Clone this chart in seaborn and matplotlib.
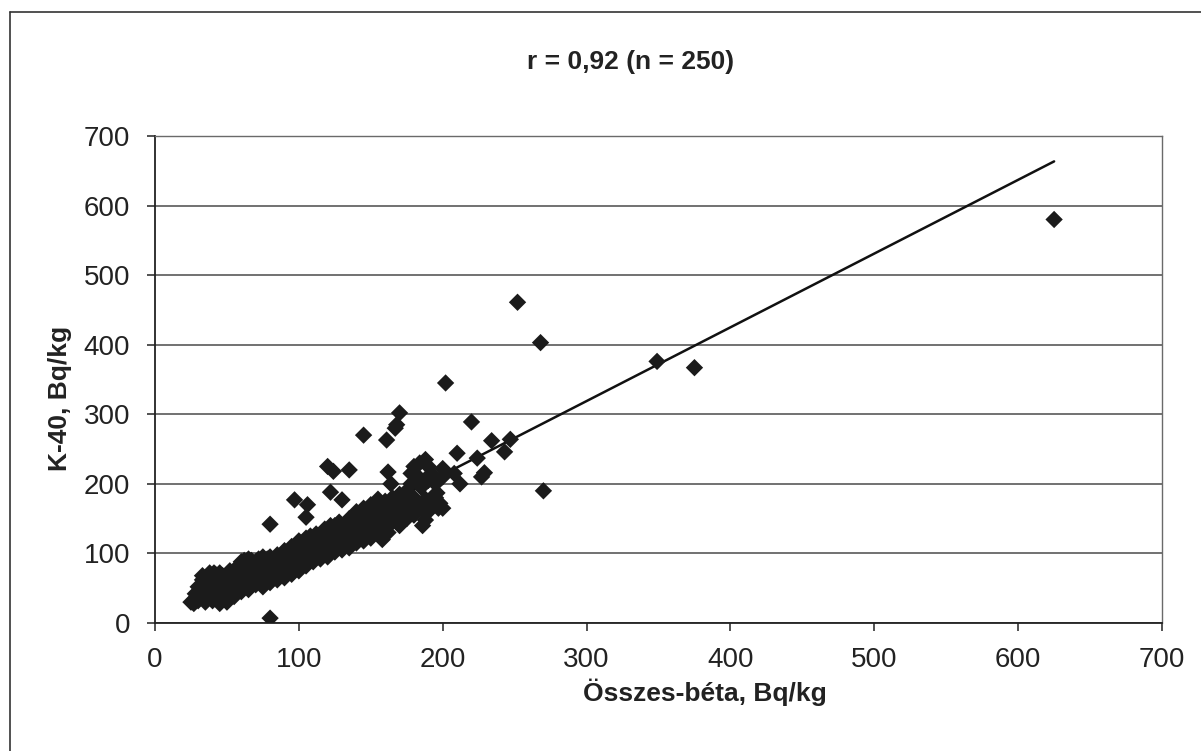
import numpy as np
import pandas as pd
import matplotlib
matplotlib.use("Agg")
import matplotlib.pyplot as plt
import seaborn as sns
from matplotlib.lines import Line2D

# ---- data ----
beta = [
    # sparse / outlying points
    625, 375, 349, 268, 252, 270, 247, 243, 234, 229, 227, 220, 224, 210, 212, 208,
    202, 196, 198, 200, 195, 197, 190, 188, 186, 188, 184, 180, 178, 170, 168, 167,
    161, 162, 164, 145, 135, 120, 124, 122, 130, 106, 105, 97, 80, 80,
    # dense band
    25, 27, 28, 30, 30, 32, 33, 35, 35, 36, 38, 38, 40, 40, 41, 42, 43, 44, 45, 45,
    46, 47, 48, 48, 50, 50, 52, 52, 54, 55, 56, 57, 58, 60, 60, 62, 62, 64, 65, 66,
    67, 68, 70, 70, 72, 72, 74, 75, 76, 78, 78, 80, 80, 82, 83, 85, 86, 88, 88, 90,
    90, 92, 93, 95, 96, 98, 100, 100, 102, 103, 105, 106, 108, 110, 110, 112, 114, 115,
    116, 118, 120, 120, 122, 124, 125, 126, 128, 130, 130, 132, 134, 135, 136, 138,
    140, 140, 142, 144, 145, 146, 148, 150, 150, 152, 153, 155, 156, 158, 158, 160,
    160, 162, 162, 164, 165, 166, 168, 170, 170, 172, 174, 175, 176, 178, 180, 182,
    183, 185, 188, 190, 192, 194, 195, 200, 200, 193, 175, 155, 143, 133, 118, 108,
    98, 87, 77, 66, 55, 48, 37, 34, 63, 73, 84, 95,
    # band edges
    33, 38, 42, 36, 30, 28, 50, 55, 58, 62, 65, 70, 72, 75, 80, 85, 90, 95, 100, 105,
    108, 112, 118, 122, 128, 60, 65, 70, 75, 80, 85, 90, 95, 100, 105, 110, 115, 120,
    125, 130, 135, 140, 145, 150, 155, 160, 165, 170, 175, 180, 185, 190, 195, 150,
    155, 145, 140, 135, 50, 55, 48, 40, 35, 52, 45,
]
k40 = [
    580, 367, 376, 403, 461, 190, 264, 246, 262, 216, 210, 289, 237, 244, 200, 215,
    345, 187, 172, 222, 180, 165, 225, 235, 140, 148, 230, 225, 215, 302, 285, 280,
    263, 217, 200, 270, 220, 225, 218, 188, 177, 170, 152, 177, 142, 7,
    30, 28, 35, 32, 45, 40, 62, 38, 55, 48, 42, 65, 50, 60, 72, 45, 55, 38, 28, 62,
    50, 68, 44, 58, 52, 40, 60, 70, 48, 56, 64, 75, 52, 60, 88, 68, 55, 80, 62, 72,
    90, 58, 70, 80, 65, 86, 75, 60, 82, 70, 92, 78, 62, 88, 75, 84, 70, 95, 80, 86,
    72, 100, 82, 90, 78, 95, 105, 85, 115, 96, 100, 110, 92, 118, 104, 98, 112, 125,
    106, 100, 115, 130, 108, 120, 140, 112, 128, 118, 135, 125, 145, 130, 115, 138,
    150, 125, 135, 155, 142, 128, 148, 160, 138, 152, 170, 145, 165, 158, 120, 150,
    175, 130, 162, 148, 180, 160, 170, 158, 185, 150, 175, 190, 165, 200, 180, 170,
    210, 195, 178, 205, 215, 180, 200, 210, 165, 181, 168, 150, 138, 128, 110, 100,
    90, 80, 76, 66, 58, 50, 46, 52, 74, 84, 92, 98,
    68, 72, 70, 58, 52, 42, 65, 70, 82, 90, 92, 88, 92, 95, 95, 98, 104, 110, 118, 122,
    125, 128, 135, 140, 145, 45, 48, 55, 52, 58, 62, 65, 70, 75, 82, 88, 92, 95,
    102, 105, 108, 115, 118, 122, 128, 140, 145, 140, 150, 155, 165, 160, 170, 170,
    178, 165, 160, 150, 30, 38, 35, 32, 30, 75, 72,
]
trend_x = [25, 625]
trend_slope = 1.06
trend_intercept = 1.0

title = "r = 0,92 (n = 250)"
xlabel = "Összes-béta, Bq/kg"
ylabel = "K-40, Bq/kg"
ticks = [0, 100, 200, 300, 400, 500, 600, 700]

df = pd.DataFrame({"beta": beta, "k40": k40})

sns.set_theme(style="white")
plt.rcParams["font.family"] = ["Liberation Sans", "DejaVu Sans"]

W, H = 1201, 751
fig = plt.figure(figsize=(W / 100, H / 100), dpi=100)
ax = fig.add_axes([155 / W, 1 - 623 / H, (1162 - 155) / W, (623 - 136) / H])

ax.set_xlim(0, 700)
ax.set_ylim(0, 700)
ax.set_xticks(ticks)
ax.set_yticks(ticks)
ax.yaxis.grid(True, color="#4a4a4a", linewidth=1.1)
ax.xaxis.grid(False)
ax.set_axisbelow(True)

tx = np.array(trend_x, dtype=float)
sns.lineplot(x=tx, y=trend_slope * tx + trend_intercept, color="#111111",
             linewidth=1.8, ax=ax, zorder=2)

sns.scatterplot(data=df, x="beta", y="k40", marker="D", s=78, color="#1b1b1b",
                edgecolor="none", ax=ax, zorder=3, legend=False)

for side in ["left", "bottom"]:
    ax.spines[side].set_color("#222222")
    ax.spines[side].set_linewidth(1.3)
for side in ["top", "right"]:
    ax.spines[side].set_visible(True)
    ax.spines[side].set_color("#6a6a6a")
    ax.spines[side].set_linewidth(1.0)

ax.tick_params(axis="both", which="major", direction="out", length=6, width=1.1,
               color="#222222", labelsize=20, labelcolor="#222222")
ax.tick_params(axis="y", pad=12, left=True)
ax.tick_params(axis="x", pad=11, bottom=True)
ax.set_xlabel("")
ax.set_ylabel("")

fig.text(631 / W, 1 - 62 / H, title, ha="center", va="center", fontsize=19,
         fontweight="bold", color="#222222")
fig.text(705 / W, 1 - 692 / H, xlabel, ha="center", va="center", fontsize=19,
         fontweight="bold", color="#222222")
fig.text(60 / W, 1 - 398 / H, ylabel, ha="center", va="center", fontsize=19,
         fontweight="bold", color="#222222", rotation=90)

# chart-area border (top and left edges visible in the scan)
fig.add_artist(Line2D([10 / W, 1.0], [1 - 12 / H, 1 - 12 / H], transform=fig.transFigure,
                      color="#333333", linewidth=1.2))
fig.add_artist(Line2D([10 / W, 10 / W], [0, 1 - 12 / H], transform=fig.transFigure,
                      color="#333333", linewidth=1.2))

fig.savefig("out.png", dpi=100, facecolor="white")
